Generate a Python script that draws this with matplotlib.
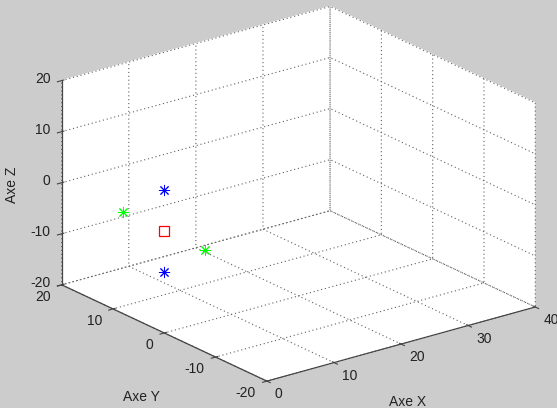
import matplotlib
matplotlib.use("Agg")
import matplotlib.pyplot as plt
import matplotlib.transforms as mtransforms

plt.rcParams['font.family'] = ['Liberation Sans', 'DejaVu Sans']
plt.rcParams['font.size'] = 10
plt.rcParams['axes.unicode_minus'] = False

# points: centre, two blue along z, two green along y
center = [0, 0, 0]
blue_x = [0, 0]
blue_y = [0, 0]
blue_z = [8, -8]
green_x = [0, 0]
green_y = [8, -8]
green_z = [0, 0]

xticks = [0, 10, 20, 30, 40]
yticks = [-20, -10, 0, 10, 20]
zticks = [-20, -10, 0, 10, 20]

txt = '#222222'

fig = plt.figure(figsize=(5.57, 4.08), dpi=100, facecolor='#cccccc')
ax = fig.add_axes([0.026, 0.0115, 1.0, 1.0], projection='3d', proj_type='ortho')
ax.set_facecolor('none')
ax.view_init(elev=21.1, azim=-127.5)
ax.set_box_aspect((1.545, 1.54, 1.0), zoom=1.25)

ax.plot(blue_x, blue_y, blue_z, linestyle='none', marker=(8, 2, 0),
        color='blue', markersize=8, markeredgewidth=0.7)
ax.plot(green_x, green_y, green_z, linestyle='none', marker=(8, 2, 0),
        color='#00ff00', markersize=8, markeredgewidth=0.7)
ax.plot([center[0]], [center[1]], [center[2]], linestyle='none', marker='s',
        color='red', markerfacecolor='none', markeredgecolor='red',
        markersize=7, markeredgewidth=0.9)

ax.set_xlim(0, 40)
ax.set_ylim(-20, 20)
ax.set_zlim(-20, 20)
ax.set_xticks(xticks)
ax.set_yticks(yticks)
ax.set_zticks(zticks)
ax.set_xticklabels([])
ax.set_yticklabels([])
ax.set_zticklabels([])

for axis in (ax.xaxis, ax.yaxis, ax.zaxis):
    axis.set_pane_color((1, 1, 1, 1))
    axis.pane.set_edgecolor('white')
    axis._axinfo['grid'].update(color='#606060', linestyle=(0, (1, 2.5)), linewidth=0.8)
    axis.line.set_color('#444444')
    axis.line.set_linewidth(0.9)
    axis.set_tick_params(colors='#444444')

# MATLAB-like tick labels next to the axis lines
def shifted(dx, dy):
    return mtransforms.offset_copy(ax.transData, fig=fig, x=dx, y=dy, units='dots')

for v in xticks:
    ax.text(v, -20, -20, str(v), ha='left', va='top', color=txt,
            transform=shifted(8, -6))
for v in yticks:
    ax.text(0, v, -20, str(v), ha='right', va='top', color=txt,
            transform=shifted(-11, -5))
for v in zticks:
    ax.text(0, 20, v, str(v), ha='right', va='center', color=txt,
            transform=shifted(-11, 2))

# horizontal axis titles like MATLAB
fig.text(141 / 557, 1 - 397 / 408, 'Axe Y', ha='center', va='center', color=txt)
fig.text(408 / 557, 1 - 402 / 408, 'Axe X', ha='center', va='center', color=txt)
fig.text(12 / 557, 1 - 185 / 408, 'Axe Z', ha='center', va='center', rotation=90, color=txt)

fig.savefig('out.png', dpi=100, facecolor=fig.get_facecolor())
